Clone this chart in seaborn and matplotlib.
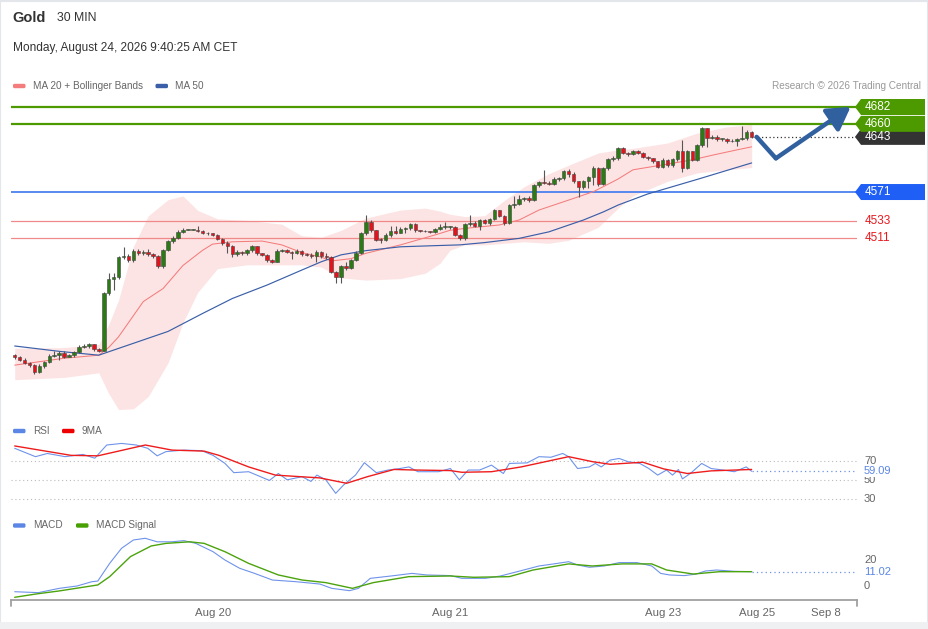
import numpy as np
import pandas as pd
import seaborn as sns
import matplotlib.pyplot as plt
from matplotlib.patches import Polygon, FancyBboxPatch, Rectangle
from matplotlib.transforms import blended_transform_factory

sns.set_theme(style="white")
plt.rcParams["font.family"] = ["Liberation Sans", "DejaVu Sans"]

# --- Candles (30 min), opens are the previous close ---
first_open = 4358
closes = [4355, 4352, 4347.5, 4345, 4336.5, 4344, 4349.5, 4357, 4358, 4361,
          4356, 4358, 4362.5, 4369, 4370, 4372, 4366, 4364, 4439, 4458,
          4460, 4486, 4488, 4482, 4494, 4491, 4493, 4490, 4487, 4474.5,
          4495.5, 4507, 4511.5, 4519, 4522, 4522, 4522, 4520, 4518, 4517,
          4515, 4510, 4504, 4501, 4490, 4493, 4491, 4495, 4500, 4491,
          4489, 4482, 4480, 4494.5, 4495.5, 4493, 4492, 4494, 4490, 4489,
          4487, 4493, 4487, 4486, 4467, 4460, 4474.5, 4471.5, 4482, 4492,
          4517, 4532, 4521, 4509, 4508.5, 4515, 4520, 4518, 4523, 4523.5,
          4529, 4521, 4520, 4519.5, 4519, 4523, 4525, 4525, 4525, 4515,
          4510.5, 4529, 4531, 4527, 4534, 4531, 4535.5, 4547, 4540, 4530,
          4554, 4555.5, 4561.5, 4563, 4561, 4580, 4584, 4583, 4582, 4588,
          4589, 4598.5, 4595, 4585, 4577, 4585, 4590, 4603, 4581, 4602,
          4614, 4616, 4628, 4622, 4620, 4624.5, 4622, 4617, 4615, 4611,
          4604, 4613, 4606, 4614, 4624, 4603, 4624, 4613, 4632, 4654,
          4642, 4643, 4640, 4640, 4637, 4638, 4640, 4641, 4650, 4643]
highs = [4360, 4357, 4354, 4349, 4346, 4346, 4351, 4359, 4363, 4363,
         4363, 4360, 4364, 4371, 4372, 4374, 4373, 4368, 4441, 4465,
         4465, 4488, 4499, 4490, 4496, 4496, 4495, 4496, 4492, 4489,
         4497, 4509, 4513, 4521, 4523.5, 4523, 4523, 4526, 4521, 4519,
         4518, 4516, 4511, 4507, 4502, 4495, 4494, 4497, 4502, 4501,
         4492, 4490, 4483, 4496, 4497, 4497, 4494, 4496, 4495, 4491,
         4491, 4495, 4494, 4492, 4487, 4468, 4476, 4480, 4484, 4494,
         4519, 4541, 4534, 4522, 4511, 4517, 4526, 4526, 4525, 4525,
         4531, 4530, 4522, 4521, 4520, 4524, 4529, 4532, 4527, 4526,
         4516, 4531, 4541, 4533, 4536, 4536, 4537, 4549, 4548, 4541,
         4556, 4566, 4567, 4565, 4566, 4582, 4586, 4600, 4585, 4590,
         4591, 4600, 4601, 4597, 4586, 4587, 4592, 4605, 4604, 4604,
         4616, 4618, 4630, 4630, 4623, 4626, 4626, 4623, 4618, 4616,
         4612, 4615, 4614, 4616, 4626, 4639, 4626, 4625, 4634, 4656,
         4655, 4646, 4645, 4642, 4641, 4640, 4641, 4657, 4652, 4651]
lows = [4353, 4350, 4346, 4343, 4334, 4335, 4341, 4348, 4355, 4352,
        4354, 4355, 4356, 4361, 4367, 4368, 4364, 4362, 4363, 4436,
        4443, 4458, 4484, 4480, 4480, 4489, 4489, 4488, 4485, 4472,
        4472, 4494, 4505, 4510, 4518, 4521, 4521, 4519, 4516.5, 4515.5,
        4513, 4508.5, 4502, 4492, 4486, 4488, 4489, 4489, 4493, 4489,
        4487, 4480, 4478, 4479, 4493, 4491, 4483, 4490, 4488, 4487,
        4485, 4480, 4485, 4484, 4465, 4452, 4452, 4469, 4470, 4481,
        4490, 4515, 4519, 4507, 4505, 4507, 4512, 4516, 4517, 4518,
        4521, 4519, 4519, 4518.5, 4518, 4518, 4521, 4523, 4523, 4513,
        4508, 4508, 4527, 4525, 4522, 4529, 4528, 4534, 4538, 4528,
        4529, 4550, 4554, 4559, 4558, 4559, 4578, 4581, 4580, 4580,
        4586, 4587, 4590, 4583, 4565, 4575, 4576, 4580, 4579, 4580,
        4600, 4612, 4613, 4620, 4618, 4619, 4620, 4615, 4613, 4609,
        4602, 4602, 4604, 4604, 4612, 4597, 4601, 4611, 4611, 4630,
        4630, 4640, 4638, 4638, 4635, 4636, 4631, 4639, 4639, 4641]

# --- Overlays (candle index, value) ---
ma20_idx = [0, 10, 17, 19, 21, 26, 30, 34, 38, 40, 44, 50, 54, 58, 62, 64, 68, 71,
            78, 85, 88, 91, 98, 102, 106, 112, 117, 119, 122, 125, 132, 137, 141, 146, 149]
ma20_val = [4345, 4354, 4358, 4368, 4382, 4428, 4445, 4475, 4495, 4503, 4506, 4507, 4502,
            4492, 4486, 4481, 4484, 4491, 4502, 4515, 4521, 4523.5, 4528, 4534.5, 4547.5,
            4560.5, 4571.5, 4578, 4588, 4600, 4607.5, 4613, 4619, 4626, 4630]
ma50_idx = [0, 9, 17, 24, 31, 38, 44, 51, 58, 62, 66, 71, 78, 85, 90, 95, 102, 108,
            115, 119, 122, 128, 138, 149]
ma50_val = [4370, 4363, 4358, 4373.5, 4389, 4412.5, 4432, 4449.5, 4469, 4480, 4489,
            4494.5, 4499.5, 4501, 4502, 4505, 4510.5, 4519, 4534.5, 4545, 4554, 4568.5,
            4587.5, 4609]
bb_idx = [0, 10, 17, 19, 21, 24, 27, 31, 34, 37, 41, 47, 54, 58, 62, 66, 71, 78, 83,
          86, 88, 91, 95, 99, 103, 108, 112, 118, 122, 125, 132, 138, 144, 149]
bb_upper = [4367, 4368, 4372, 4398, 4430, 4500, 4540, 4561, 4566, 4547, 4536, 4534,
            4529, 4514, 4512, 4521, 4537, 4547.5, 4550, 4546, 4542, 4539, 4540, 4560,
            4578, 4595, 4606, 4622, 4626, 4628, 4635, 4648, 4656, 4659]
bb_lower = [4326, 4329, 4335, 4308, 4287, 4288, 4304, 4348, 4400, 4440, 4471, 4476,
            4476, 4476, 4473, 4459, 4456, 4458, 4465, 4478, 4495, 4502, 4502, 4504,
            4506, 4504, 4508, 4525, 4550, 4566, 4585, 4596, 4600, 4603]

# --- Key levels and forecast path ---
resistances = [4682, 4660]
last_price = 4643
pivot_level = 4571
supports = [4533, 4511]
forecast_idx = [150, 153.9, 169]
forecast_price = [4643, 4615, 4682]

# --- RSI (14) and its 9MA ---
rsi_idx = [0, 4.2, 6.6, 10.2, 13.8, 16.2, 18.6, 21.6, 24.6, 26.9, 28.8, 30.6, 34.2,
           37.8, 40.1, 42.5, 44.3, 47.3, 49.7, 51.5, 53.3, 55.1, 58.1, 59.9, 61.1,
           62.9, 64.9, 66.5, 68.9, 70.7, 73.1, 75.5, 77.9, 79.7, 81.5, 85.7, 88.1,
           89.9, 91.7, 94.0, 96.4, 98.8, 100.0, 103.6, 106.0, 108.4, 110.8, 112.0,
           113.8, 116.2, 117.4, 118.6, 120.4, 122.2, 124.0, 126.4, 128.2, 130.0,
           131.8, 133.0, 134.2, 135.0, 136.6, 138.9, 140.8, 143.2, 145.5, 147.9, 149]
rsi_val = [83.5, 74.6, 78, 74.6, 77, 73, 87, 88.7, 87, 83.5, 75.5, 80, 81.6,
           81, 76, 67.5, 57.6, 58.6, 53.3, 49.3, 56.7, 50, 53.3, 48.3, 55,
           50, 35.6, 44.5, 55, 68.2, 57.6, 60.4, 62, 63.7, 58.6, 58.6, 62,
           50, 60.4, 60.4, 65.6, 56.7, 67.4, 68, 74.6, 74, 78, 74.6,
           62, 63.7, 67.4, 63.7, 71, 72.7, 69.3, 67.4, 62, 55,
           60.4, 55, 61, 51, 56.7, 67.4, 62, 60.4, 58.6, 63.7, 59.09]
rsi_ma_idx = [0, 11.4, 16.8, 26.4, 31.8, 38.3, 41.3, 47.3, 52.7, 61.7, 67.1, 71.3,
              76.7, 80.9, 88.1, 90.4, 96.4, 102.4, 112.0, 116.8, 120.4, 127.0, 131.2,
              136.0, 140.8, 149]
rsi_ma_val = [86, 76, 75.5, 87, 81.6, 80.5, 76, 63.7, 55, 52, 46.3, 53.3,
              61, 60.4, 59.8, 58, 58.6, 63.7, 74.6, 69.3, 66.5, 68.7, 61.6,
              56.7, 59.5, 61]
rsi_levels = [70, 50, 30]
rsi_last = 59.09

# --- MACD and signal ---
macd_idx = [0, 4.8, 9.0, 12.6, 15.6, 16.8, 19.2, 21.6, 24.0, 26.4, 28.8, 31.8, 34.2,
            36.6, 40.1, 42.5, 45.5, 48.5, 52.1, 56.9, 61.7, 64.1, 67.7, 69.5, 71.9,
            76.1, 80.3, 83.3, 88.1, 90.4, 95.2, 98.2, 102.4, 106.0, 109.0, 112.0,
            113.8, 116.2, 119.2, 122.2, 125.8, 128.8, 130.6, 132.4, 135.4, 137.8,
            139.6, 141.9, 145.5, 149]
macd_val = [-4.4, -5.1, -1.8, 0, 3.3, 3.8, 17.4, 29, 35.4, 36.7, 34, 34, 34.9,
            32.8, 26.4, 20, 13.6, 9.7, 4.6, 3.3, 1.5, -1.8, -3.6, -1.8, 5.9,
            7.7, 9.7, 8.5, 8, 5.9, 5.9, 7.7, 11.8, 15.4, 17, 18.7,
            16.2, 14.4, 15.4, 18, 18, 15.4, 9.7, 8.5, 8, 9.2,
            11.5, 12.3, 11.3, 11.02]
signal_idx = [0, 4.2, 9.0, 16.8, 19.2, 23.4, 27.6, 30.6, 35.4, 38.3, 42.5, 47.3,
              53.3, 58.1, 62.9, 68.3, 72.5, 79.7, 88.1, 92.8, 100.0, 104.8, 112.0,
              116.8, 122.8, 128.8, 131.8, 137.2, 142.5, 149]
signal_val = [-8.7, -6.2, -3.8, 0.8, 7.2, 22.6, 30.8, 32.8, 34, 32.8, 26.4, 17.4,
              8.5, 4.6, 2.6, -1.8, 2.6, 7.2, 7.7, 6.7, 7.2, 12.3, 17,
              15.4, 17, 17, 12.3, 9.2, 11, 11.02]
macd_labels = [20, 0]
macd_last = 11.02

date_labels = ["Aug 20", "Aug 21", "Aug 23", "Aug 25", "Sep 8"]
date_idx = [40.1, 88.0, 131.2, 150.0, 164.0]

# --- colours ---
GREEN_C = "#2a7b14"
RED_C = "#e5121c"
LEVEL_GREEN = "#4c9a00"
LEVEL_BLUE = "#1f5ff5"
PIVOT_LINE = "#4a80ee"
SUPPORT_LINE = "#f08a8a"
SUPPORT_TEXT = "#e8191e"
BAND_FILL = "#fde4e4"
MA20_C = "#f47c7c"
MA50_C = "#3a5fa8"
RSI_C = "#6f93ea"
RSI_MA_C = "#ee1c1c"
MACD_C = "#6f93ea"
SIGNAL_C = "#4ba30d"
ARROW_C = "#31609f"
TEXT_C = "#333333"
MUTED = "#666666"

# --- layout in pixels ---
W, H = 929, 629
X0_PX, STEP_PX = 14.7, 4.946
LEFT_PX, RIGHT_PX = 11, 857


def to_idx(px):
    return (px - X0_PX) / STEP_PX


fig = plt.figure(figsize=(W / 100, H / 100), dpi=100)
fig.patch.set_facecolor("white")


def panel(top, bottom):
    a = fig.add_axes([LEFT_PX / W, 1 - bottom / H, (RIGHT_PX - LEFT_PX) / W, (bottom - top) / H])
    a.set_facecolor("none")
    for s in a.spines.values():
        s.set_visible(False)
    a.set_xticks([])
    a.set_yticks([])
    a.set_xlim(to_idx(LEFT_PX), to_idx(RIGHT_PX))
    return a


ax_p = panel(95, 415)
ax_r = panel(440, 505)
ax_m = panel(530, 599.5)

# price scale: 4682 sits at y=107 px, 0.766 px per point
ax_p.set_ylim(4682 - (415 - 107) / 0.766, 4682 + (107 - 95) / 0.766)
ax_r.set_ylim(70 - (505 - 461) / 0.94, 70 + (461 - 440) / 0.94)
ax_m.set_ylim((586 - 599.5) / 1.3, (586 - 530) / 1.3)

ov = fig.add_axes([0, 0, 1, 1], zorder=10)
ov.set_xlim(0, W)
ov.set_ylim(H, 0)
ov.axis("off")
ov.patch.set_alpha(0)

# ============ PRICE PANEL ============
ax_p.fill_between(bb_idx, bb_lower, bb_upper, color=BAND_FILL, lw=0, zorder=1)

for lvl in resistances:
    ax_p.axhline(lvl, color=LEVEL_GREEN, lw=1.6, zorder=2)
ax_p.axhline(pivot_level, color=PIVOT_LINE, lw=1.3, zorder=2)
for lvl in supports:
    ax_p.axhline(lvl, color=SUPPORT_LINE, lw=0.9, zorder=2)

sns.lineplot(x=ma20_idx, y=ma20_val, ax=ax_p, color=MA20_C, lw=0.75, zorder=3)
sns.lineplot(x=ma50_idx, y=ma50_val, ax=ax_p, color=MA50_C, lw=0.85, zorder=3)

df = pd.DataFrame({"close": closes, "high": highs, "low": lows})
df["open"] = [first_open] + closes[:-1]
df["idx"] = np.arange(len(df))
body = df["close"] - df["open"]
body_h = np.where(body.abs() < 1, 1.0, body.abs())
body_b = np.minimum(df["open"], df["close"])
colors = np.where(body >= 0, GREEN_C, RED_C)
ax_p.vlines(df["idx"], df["low"], df["high"], color="#555555", lw=0.8, zorder=4)
ax_p.bar(df["idx"], body_h, bottom=body_b, width=0.72, color=colors,
         edgecolor="#444444", linewidth=0.4, zorder=5)

# dotted line from last candle to the price tag
ax_p.plot([len(df) - 0.5, to_idx(RIGHT_PX)], [last_price, last_price],
          color="#333333", lw=0.9, ls=(0, (1, 2)), zorder=3)

# forecast arrow
ax_p.plot(forecast_idx[:2], forecast_price[:2], color=ARROW_C, lw=3.2,
          solid_capstyle="round", solid_joinstyle="miter", zorder=7, clip_on=False)
ax_p.annotate("", xy=(forecast_idx[2], forecast_price[2]),
              xytext=(forecast_idx[1], forecast_price[1]),
              arrowprops=dict(arrowstyle="-|>,head_length=0.75,head_width=0.45",
                              color=ARROW_C, lw=3.2, shrinkA=0, shrinkB=0,
                              mutation_scale=18, capstyle="round"),
              zorder=7, annotation_clip=False)

# price tags on the right
tf_p = blended_transform_factory(ov.transData, ax_p.transData)
half = 8 / 0.766


def tag(level, face):
    verts = [(855, level), (861, level + half), (925, level + half),
             (925, level - half), (861, level - half)]
    ax_p.add_patch(Polygon(verts, closed=True, transform=tf_p, facecolor=face,
                           edgecolor="none", clip_on=False, zorder=8))
    ax_p.text(865, level, f"{level}", transform=tf_p, color="white", fontsize=8.5,
              va="center", ha="left", clip_on=False, zorder=9)


tag(last_price, "#333333")
for lvl in resistances:
    tag(lvl, LEVEL_GREEN)
tag(pivot_level, LEVEL_BLUE)
for lvl in supports:
    ax_p.text(865, lvl, f"{lvl}", transform=tf_p, color=SUPPORT_TEXT, fontsize=8.5,
              va="center", ha="left", clip_on=False)

# ============ RSI PANEL ============
for lvl in rsi_levels:
    ax_r.axhline(lvl, color="#bbbbbb", lw=0.8, ls=(0, (1, 2.5)), zorder=1)
sns.lineplot(x=rsi_idx, y=rsi_val, ax=ax_r, color=RSI_C, lw=0.8, zorder=3)
sns.lineplot(x=rsi_ma_idx, y=rsi_ma_val, ax=ax_r, color=RSI_MA_C, lw=1.0, zorder=4)
ax_r.plot([rsi_idx[-1], to_idx(RIGHT_PX)], [rsi_last, rsi_last], color=RSI_C,
          lw=0.9, ls=(0, (1, 2.5)), zorder=2)
tf_r = blended_transform_factory(ov.transData, ax_r.transData)
for lvl in rsi_levels:
    ax_r.text(864, lvl, f"{lvl}", transform=tf_r, color=MUTED, fontsize=8,
              va="center", ha="left", clip_on=False)
ax_r.text(864, rsi_last, f"{rsi_last:.2f}", transform=tf_r, color="#5b86e5",
          fontsize=8, va="center", ha="left", clip_on=False,
          bbox=dict(facecolor="white", edgecolor="none", pad=0.5))

# ============ MACD PANEL ============
sns.lineplot(x=macd_idx, y=macd_val, ax=ax_m, color=MACD_C, lw=0.8, zorder=3)
sns.lineplot(x=signal_idx, y=signal_val, ax=ax_m, color=SIGNAL_C, lw=1.0, zorder=4)
ax_m.plot([macd_idx[-1], to_idx(RIGHT_PX)], [macd_last, macd_last], color=MACD_C,
          lw=0.9, ls=(0, (1, 2.5)), zorder=2)
tf_m = blended_transform_factory(ov.transData, ax_m.transData)
for lvl in macd_labels:
    ax_m.text(864, lvl, f"{lvl}", transform=tf_m, color=MUTED, fontsize=8,
              va="center", ha="left", clip_on=False)
ax_m.text(864, macd_last, f"{macd_last:.2f}", transform=tf_m, color="#5b86e5",
          fontsize=8, va="center", ha="left", clip_on=False)

ax_m.spines["bottom"].set_visible(True)
ax_m.spines["bottom"].set_color("#a0a0a0")
ax_m.spines["bottom"].set_linewidth(1.3)
ax_m.set_xticks(date_idx)
ax_m.set_xticklabels(date_labels)
ax_m.tick_params(axis="x", length=0, pad=6, labelsize=8.2, colors=MUTED)
for xf in (0, 1):
    ax_m.plot([xf, xf], [0, -0.09], transform=ax_m.transAxes, color="#a0a0a0",
              lw=1.3, clip_on=False)

# ============ HEADER / LEGENDS ============
ov.text(12, 18, "Gold", fontsize=10.5, fontweight="bold", color=TEXT_C, va="center")
ov.text(57, 18, "30 MIN", fontsize=8.8, color=TEXT_C, va="center")
ov.text(13, 48, "Monday, August 24, 2026 9:40:25 AM CET", fontsize=8.6, color=TEXT_C,
        va="center")
ov.text(921, 86, "Research \u00a9 2026 Trading Central", fontsize=7.2, color="#999999",
        va="center", ha="right")


def legend_item(x, y, color, label):
    ov.add_patch(FancyBboxPatch((x, y - 2.2), 12.5, 4.4,
                                boxstyle="round,pad=0,rounding_size=1.5",
                                facecolor=color, edgecolor="none"))
    ov.text(x + 20, y, label, fontsize=7.2, color=MUTED, va="center", ha="left")


legend_item(13, 86, MA20_C, "MA 20 + Bollinger Bands")
legend_item(155.5, 86, MA50_C, "MA 50")
legend_item(13, 431, "#5b86e5", "RSI")
legend_item(62, 431, "#ee0000", "9MA")
legend_item(13, 525.5, "#5b86e5", "MACD")
legend_item(76, 525.5, "#46a000", "MACD Signal")

# frame around the widget
ov.add_patch(Rectangle((0.5, 0.5), W - 1, H - 1, facecolor="none",
                       edgecolor="#e3e6ea", lw=1.5))
ov.add_patch(Rectangle((0, 622), W, 7, facecolor="#eef0f2", edgecolor="none"))

fig.savefig("out.png", dpi=100)
